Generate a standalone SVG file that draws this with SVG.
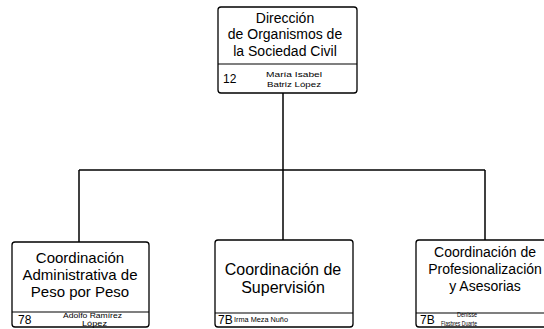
<svg xmlns="http://www.w3.org/2000/svg" width="544" height="329" viewBox="0 0 544 329">
<style>
.box{fill:#fff;stroke:#000;stroke-width:1.3}
.div{stroke:#000;stroke-width:1.1}
.conn{stroke:#000;stroke-width:1.5;fill:none}
.t{font-family:"Liberation Sans",Arial,sans-serif;fill:#000;text-anchor:middle}
.code{font-family:"Liberation Sans",Arial,sans-serif;fill:#000;font-size:12px}
.nm{font-family:"Liberation Sans",Arial,sans-serif;fill:#000;font-size:7px}
</style>
<rect width="544" height="329" fill="#fff"/>
<g id="connectors">
<line class="conn" x1="283" y1="93" x2="283" y2="240"/>
<line class="conn" x1="79" y1="170" x2="485" y2="170"/>
<line class="conn" x1="79" y1="170" x2="79" y2="242"/>
<line class="conn" x1="485" y1="170" x2="485" y2="240"/>
</g>
<g id="direccion">
<rect class="box" x="218" y="7" width="139" height="86" rx="3"/>
<line class="div" x1="218" y1="64" x2="357" y2="64"/>
<text class="t" x="285" y="23" font-size="14">Dirección</text>
<text class="t" x="285" y="39" font-size="14">de Organismos de</text>
<text class="t" x="285" y="56" font-size="14">la Sociedad Civil</text>
<text class="code" x="223" y="83">12</text>
<text class="nm" x="266" y="77" textLength="56" lengthAdjust="spacingAndGlyphs">María Isabel</text>
<text class="nm" x="267" y="87" textLength="54" lengthAdjust="spacingAndGlyphs">Batriz López</text>
</g>
<g id="coord-admin">
<rect class="box" x="12" y="242" width="137" height="85" rx="3"/>
<line class="div" x1="12" y1="312" x2="149" y2="312"/>
<text class="t" x="80" y="263" font-size="15">Coordinación</text>
<text class="t" x="80" y="280" font-size="15">Administrativa de</text>
<text class="t" x="80" y="297" font-size="15">Peso por Peso</text>
<text class="code" x="18" y="324">78</text>
<text class="nm" x="63" y="318" textLength="59" lengthAdjust="spacingAndGlyphs">Adolfo Ramírez</text>
<text class="nm" x="82" y="326" textLength="25" lengthAdjust="spacingAndGlyphs">López</text>
</g>
<g id="coord-supervision">
<rect class="box" x="215" y="240" width="138" height="87" rx="3"/>
<line class="div" x1="215" y1="313" x2="353" y2="313"/>
<text class="t" x="283" y="275" font-size="16">Coordinación de</text>
<text class="t" x="283" y="293" font-size="16">Supervisión</text>
<text class="code" x="218" y="324">7B</text>
<text class="nm" x="234" y="322" textLength="54" lengthAdjust="spacingAndGlyphs">Irma Meza Nuño</text>
</g>
<g id="coord-profesionalizacion">
<rect class="box" x="416" y="240" width="140" height="87" rx="3"/>
<line class="div" x1="416" y1="313" x2="556" y2="313"/>
<text class="t" x="485" y="257" font-size="14">Coordinación de</text>
<text class="t" x="485" y="274" font-size="14">Profesionalización</text>
<text class="t" x="485" y="291" font-size="14">y Asesorias</text>
<text class="code" x="420" y="324">7B</text>
<text class="nm" x="457" y="317" font-size="6" textLength="20" lengthAdjust="spacingAndGlyphs">Denisse</text>
<text class="nm" x="441" y="326" font-size="6" textLength="36" lengthAdjust="spacingAndGlyphs">Flasbres Duarte</text>
</g>
</svg>
